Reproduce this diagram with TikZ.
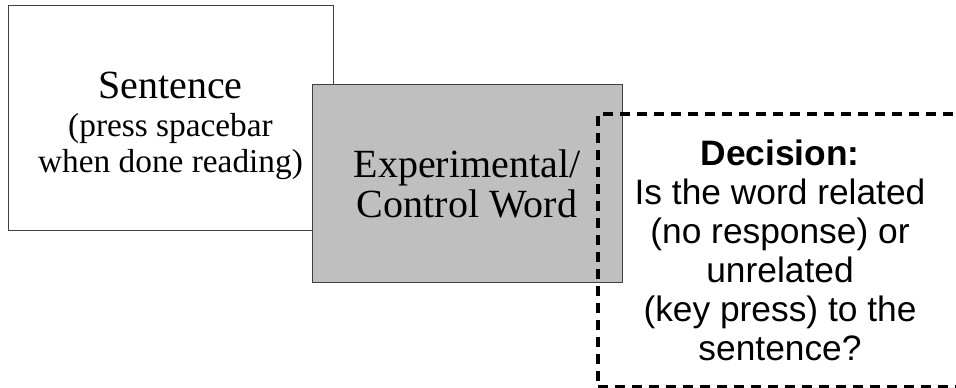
\documentclass[tikz,border=0pt]{standalone}
\usepackage{fontspec}
\setmainfont{Liberation Serif}
\newfontfamily\decfont{Liberation Sans}
\tikzset{
  trialbox/.style={draw=black!75, line width=0.75pt, inner sep=0pt, align=center},
  decbox/.style={draw=black, line width=2.7pt, dash pattern=on 7.5pt off 5.25pt,
    inner sep=0pt, align=center},
}
\begin{document}
\begin{tikzpicture}[x=0.75pt,y=-0.75pt]
  \clip (0,0) rectangle (956,388);
  % sentence screen
  \node[trialbox, fill=white, minimum width=243.75pt, minimum height=168.75pt]
    (sentence) at (170.5,118.5) {};
  \node[align=center, font=\fontsize{25}{26.5}\selectfont] (sentence text) at (170.5,126)
    {{\fontsize{30}{33}\selectfont Sentence}\\[2pt] (press spacebar\\ when done reading)};
  % target word screen
  \node[trialbox, fill=black!25, minimum width=232.5pt, minimum height=147.75pt,
    font=\fontsize{30}{30}\selectfont] (word) at (467,183.5)
    {Experimental/\\ Control Word};
  % decision, runs off the right edge
  \node[decbox, minimum width=273pt, minimum height=204.75pt,
    font=\decfont\fontsize{26.5}{29.25}\selectfont] (decision) at (780,250.5)
    {{\bfseries Decision:}\\ Is the word related\\ (no response) or\\ unrelated\\
     (key press) to the\\ sentence?};
\end{tikzpicture}
\end{document}
